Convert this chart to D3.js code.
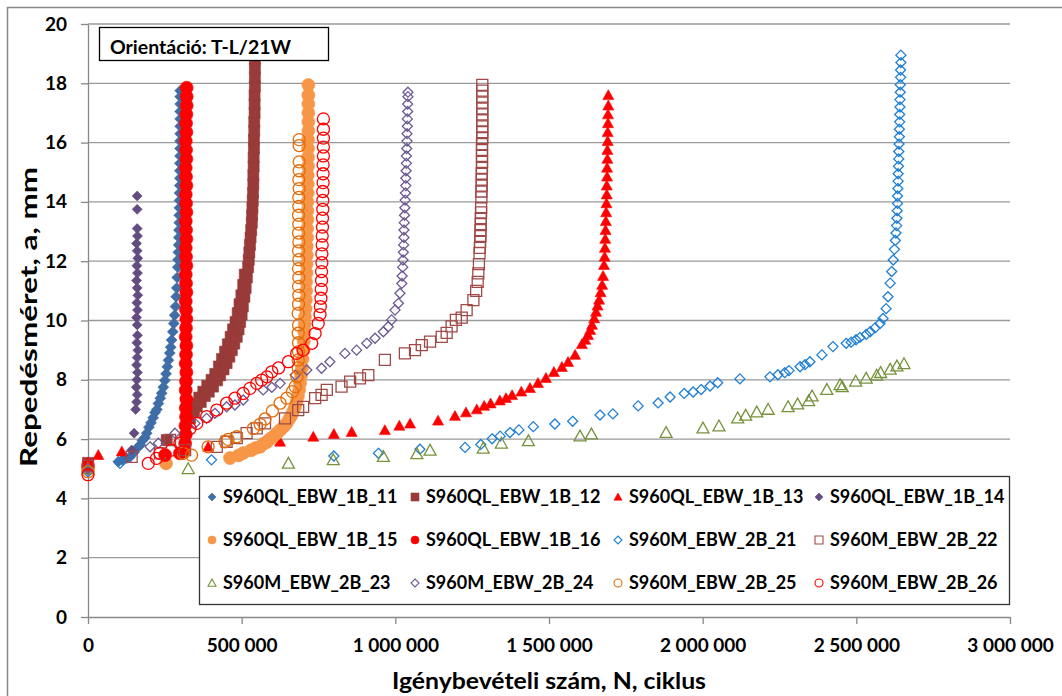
<!DOCTYPE html>
<html>
<head>
<meta charset="utf-8">
<script src="https://cdn.jsdelivr.net/npm/d3@7"></script>
<style>
  body { margin: 0; background: #fff; }
  svg text { font-family: Lato, "Open Sans", sans-serif; font-weight: bold; fill: #000; }
</style>
</head>
<body>
<svg id="chart"></svg>
<script>
// ---- data: [N cycles, crack size a mm] ----
const s11 = [[0,5.2],[98600,5.24],[112000,5.3],[125000,5.35],[136700,5.4],[150000,5.56],[163700,5.74],[170000,5.8],[177000,5.95],[185000,6.05],[191000,6.2],[198000,6.4],[205000,6.55],[212000,6.72],[218000,6.9],[224000,7.0],[229000,7.2],[235000,7.38],[239800,7.55],[245000,7.75],[250000,7.98],[254000,8.2],[258000,8.44],[262000,8.66],[266000,8.9],[269000,9.1],[272000,9.34],[276000,9.62],[279000,9.9],[282000,10.18],[285000,10.47],[287000,10.8],[289000,11.1],[290500,11.45],[292000,11.8],[293000,12.05],[294000,12.3],[295000,12.55],[295500,12.8],[296000,13.05],[297000,13.3],[297000,13.55],[297500,13.8],[298000,14.05],[298000,14.3],[298500,14.55],[299000,14.8],[299000,15.05],[299000,15.3],[299500,15.55],[299500,15.8],[299500,16.05],[300000,16.3],[300000,16.55],[300000,16.8],[300000,17.05],[300000,17.3],[300000,17.55],[300000,17.75]];
const s12 = [[0,5.2],[256000,5.97],[321000,6.75],[332000,6.7],[338000,6.95],[345000,6.9],[350000,7.2],[354000,7.1],[362000,7.4],[367000,7.25],[375000,7.6],[380000,7.45],[388000,7.8],[393000,7.6],[402000,8.0],[407000,7.77],[414000,8.2],[420000,7.98],[426000,8.45],[430000,8.15],[436000,8.7],[441000,8.35],[446000,8.95],[451000,8.56],[455000,9.2],[460000,8.78],[464000,9.45],[468000,9.0],[472000,9.7],[476000,9.22],[480000,9.95],[484000,9.45],[487000,10.25],[490000,9.7],[493000,10.55],[495000,9.95],[499000,10.85],[500000,10.2],[504000,10.47],[505000,11.2],[509000,10.8],[510000,11.55],[513000,11.1],[517000,11.45],[521000,11.8],[523000,12.05],[525000,12.3],[527000,12.55],[529000,12.8],[531000,13.05],[533000,13.3],[534000,13.55],[535000,13.8],[536000,14.05],[537000,14.3],[538000,14.6],[538000,14.9],[539000,15.2],[539000,15.5],[540000,15.8],[540000,16.1],[541000,16.4],[541000,16.7],[542000,17.0],[542000,17.3],[542000,17.6],[543000,17.9],[543000,18.2],[543000,18.5],[543000,18.8]];
const s13 = [[0,5.2],[33600,5.46],[110000,5.58],[391000,5.74],[625000,5.91],[733000,6.08],[800000,6.17],[858000,6.24],[966000,6.3],[1013000,6.45],[1048000,6.52],[1139000,6.62],[1194000,6.78],[1230000,6.9],[1265000,7.0],[1289000,7.12],[1310000,7.2],[1340000,7.3],[1360000,7.38],[1380000,7.48],[1410000,7.6],[1438000,7.72],[1464000,7.89],[1490000,8.06],[1516000,8.26],[1542000,8.43],[1562000,8.6],[1585000,8.84],[1607000,9.2],[1618000,9.35],[1627000,9.51],[1634000,9.68],[1640000,9.85],[1647000,10.07],[1653000,10.29],[1658000,10.5],[1663000,10.7],[1668000,10.95],[1673000,11.2],[1676000,11.5],[1679000,11.87],[1681000,12.15],[1682000,12.45],[1683000,12.75],[1684000,13.05],[1685000,13.35],[1686000,13.65],[1687000,13.95],[1688000,14.25],[1688000,14.55],[1689000,14.85],[1689000,15.15],[1690000,15.45],[1690000,15.75],[1691000,16.05],[1691000,16.35],[1692000,16.65],[1692000,16.95],[1693000,17.25],[1693000,17.6]];
const s14 = [[0,5.1],[142000,5.63],[150000,6.2],[155000,7.0],[158000,7.25],[160000,7.5],[157000,7.75],[159000,8.0],[161000,8.25],[158000,8.5],[160000,8.75],[162000,9.0],[159000,9.25],[161000,9.5],[160000,9.85],[158000,10.1],[161000,10.35],[159000,10.6],[162000,10.85],[160000,11.1],[158000,11.35],[161000,11.6],[159000,11.85],[162000,12.1],[160000,12.35],[158000,12.6],[161000,12.85],[160000,13.1],[160000,13.75],[160000,14.2]];
const s15 = [[0,5.0],[254000,5.18],[462000,5.36],[490000,5.45],[505000,5.53],[530000,5.62],[545000,5.7],[560000,5.74],[572000,5.85],[582000,5.9],[592000,6.0],[602000,6.08],[615000,6.2],[625000,6.3],[637000,6.42],[647000,6.54],[655000,6.68],[662000,6.8],[668000,6.95],[674000,7.09],[679000,7.27],[683000,7.45],[687000,7.66],[690000,7.88],[693000,8.14],[696000,8.4],[698000,8.7],[701000,9.0],[702000,9.3],[704000,9.6],[705000,9.87],[706000,10.13],[708000,10.4],[709000,10.7],[710000,11.0],[710000,11.3],[711000,11.6],[711000,11.9],[712000,12.2],[712000,12.5],[713000,12.8],[713000,13.1],[714000,13.4],[714000,13.7],[714000,14.0],[715000,14.3],[715000,14.6],[715000,14.9],[716000,15.2],[716000,15.5],[716000,15.8],[716000,16.1],[717000,16.4],[717000,16.7],[717000,17.0],[717000,17.3],[717000,17.6],[717000,17.94]];
const s16 = [[0,5.1],[251000,5.46],[299000,5.52],[312000,5.6],[316000,5.85],[318000,6.15],[317000,6.45],[319000,6.75],[318000,7.05],[320000,7.35],[318000,7.65],[319000,7.95],[320000,8.25],[318000,8.55],[319000,8.85],[320000,9.15],[318000,9.45],[319000,9.75],[320000,10.05],[319000,10.35],[318000,10.65],[320000,10.95],[319000,11.25],[318000,11.55],[320000,11.85],[319000,12.15],[318000,12.45],[320000,12.75],[319000,13.05],[318000,13.35],[320000,13.65],[319000,13.95],[318000,14.25],[320000,14.55],[319000,14.85],[318000,15.15],[320000,15.45],[319000,15.75],[318000,16.05],[320000,16.35],[319000,16.65],[320000,16.95],[321000,17.25],[321000,17.55],[321000,17.85]];
const s21 = [[0,4.9],[104000,5.18],[402000,5.3],[800000,5.43],[945000,5.52],[1080000,5.66],[1227000,5.72],[1278000,5.82],[1315000,6.01],[1341000,6.1],[1373000,6.22],[1402000,6.31],[1449000,6.42],[1519000,6.51],[1577000,6.6],[1666000,6.81],[1708000,6.85],[1790000,7.12],[1855000,7.22],[1894000,7.42],[1940000,7.54],[1969000,7.59],[1995000,7.67],[2024000,7.79],[2049000,7.9],[2121000,8.03],[2219000,8.1],[2245000,8.17],[2267000,8.24],[2281000,8.31],[2317000,8.44],[2333000,8.51],[2349000,8.61],[2388000,8.84],[2424000,9.12],[2467000,9.23],[2483000,9.27],[2499000,9.35],[2512000,9.43],[2532000,9.53],[2545000,9.62],[2561000,9.75],[2577000,9.9],[2587000,10.07],[2597000,10.4],[2603000,10.8],[2610000,11.26],[2615000,11.65],[2620000,12.04],[2624000,12.4],[2627000,12.7],[2629000,12.95],[2631000,13.2],[2632000,13.45],[2633000,13.7],[2634000,13.95],[2634000,14.2],[2635000,14.45],[2636000,14.7],[2636000,14.95],[2637000,15.2],[2638000,15.45],[2638000,15.7],[2639000,15.95],[2640000,16.2],[2640000,16.45],[2641000,16.7],[2641000,16.95],[2642000,17.2],[2642000,17.45],[2643000,17.7],[2643000,17.95],[2644000,18.2],[2644000,18.45],[2645000,18.7],[2645000,18.95]];
const s22 = [[0,5.1],[142000,5.4],[234000,5.52],[267000,5.97],[316000,5.63],[419000,5.74],[451000,5.91],[484000,6.03],[516000,6.2],[549000,6.36],[576000,6.53],[641000,6.7],[684000,6.98],[700000,7.09],[739000,7.38],[760000,7.49],[777000,7.66],[825000,7.77],[853000,7.94],[885000,8.05],[912000,8.16],[966000,8.67],[1031000,8.89],[1064000,9.0],[1086000,9.17],[1113000,9.29],[1151000,9.45],[1167000,9.58],[1183000,9.8],[1197000,10.02],[1216000,10.1],[1232000,10.35],[1254000,10.69],[1263000,11.0],[1268000,11.3],[1270000,11.59],[1272000,11.9],[1274000,12.27],[1275000,12.45],[1276000,12.65],[1277000,12.85],[1277000,13.05],[1278000,13.25],[1278000,13.45],[1279000,13.65],[1279000,13.8],[1280000,14.15],[1280000,14.35],[1281000,14.55],[1281000,14.75],[1281000,14.95],[1282000,15.15],[1282000,15.35],[1282000,15.55],[1282000,15.75],[1282000,15.95],[1283000,16.15],[1283000,16.35],[1283000,16.55],[1283000,16.75],[1283000,16.95],[1283000,17.15],[1283000,17.35],[1283000,17.55],[1283000,17.75],[1283000,17.95]];
const s23 = [[0,5.0],[326000,5.0],[652000,5.18],[798000,5.3],[961000,5.41],[1070000,5.5],[1113000,5.62],[1286000,5.69],[1345000,5.86],[1433000,5.94],[1601000,6.1],[1638000,6.17],[1881000,6.22],[2001000,6.37],[2053000,6.44],[2114000,6.71],[2140000,6.8],[2176000,6.91],[2213000,7.0],[2278000,7.09],[2309000,7.18],[2345000,7.29],[2356000,7.45],[2404000,7.67],[2447000,7.83],[2454000,7.76],[2498000,7.95],[2532000,8.05],[2566000,8.15],[2579000,8.24],[2610000,8.35],[2632000,8.46],[2655000,8.54]];
const s24 = [[0,5.0],[202000,5.74],[229000,5.86],[283000,6.2],[348000,6.53],[386000,6.7],[413000,6.87],[451000,7.09],[478000,7.15],[505000,7.32],[570000,7.66],[598000,7.75],[625000,7.88],[674000,8.16],[712000,8.33],[760000,8.39],[787000,8.61],[836000,8.89],[874000,9.0],[907000,9.23],[934000,9.4],[961000,9.62],[977000,9.79],[988000,10.02],[999000,10.35],[1010000,10.58],[1015000,10.92],[1021000,11.25],[1022000,11.5],[1024000,11.8],[1025000,12.04],[1026000,12.3],[1027000,12.55],[1028000,12.8],[1028000,13.05],[1029000,13.3],[1030000,13.55],[1031000,13.8],[1032000,14.06],[1033000,14.3],[1034000,14.55],[1034000,14.8],[1035000,15.05],[1036000,15.3],[1036000,15.55],[1037000,15.8],[1038000,16.05],[1038000,16.3],[1039000,16.55],[1039000,16.8],[1040000,17.05],[1040000,17.3],[1041000,17.55],[1041000,17.7]];
const s25 = [[0,4.9],[310000,5.52],[337000,5.46],[391000,5.74],[446000,5.91],[456000,5.99],[484000,6.08],[538000,6.36],[560000,6.5],[576000,6.68],[600000,6.95],[625000,7.21],[647000,7.38],[665000,7.6],[674000,7.77],[680000,8.1],[684000,8.4],[684000,8.67],[685000,8.95],[685000,9.25],[684000,9.57],[685000,9.85],[684000,10.24],[685000,10.55],[686000,10.85],[685000,11.15],[686000,11.45],[685000,11.75],[686000,12.05],[685000,12.35],[686000,12.65],[685000,12.95],[686000,13.25],[685000,13.55],[686000,13.85],[686000,14.15],[687000,14.45],[686000,14.75],[687000,15.05],[687000,15.35],[687000,15.9],[687000,16.1]];
const s26 = [[0,4.8],[196000,5.18],[223000,5.35],[234000,5.52],[272000,5.63],[299000,5.86],[332000,6.36],[354000,6.53],[386000,6.76],[419000,6.98],[451000,7.21],[478000,7.38],[505000,7.54],[527000,7.71],[549000,7.88],[565000,7.99],[582000,8.1],[598000,8.27],[620000,8.4],[652000,8.61],[679000,8.89],[700000,9.0],[728000,9.23],[739000,9.56],[749000,9.9],[755000,10.2],[756000,10.47],[758000,10.75],[759000,11.05],[760000,11.35],[760000,11.65],[761000,11.95],[761000,12.25],[762000,12.55],[762000,12.85],[763000,13.15],[763000,13.45],[764000,13.75],[764000,14.05],[764000,14.35],[765000,14.65],[765000,14.95],[765000,15.25],[766000,15.55],[766000,15.85],[766000,16.15],[766000,16.45],[766000,16.8]];

const seriesNames = ['S960QL_EBW_1B_11','S960QL_EBW_1B_12','S960QL_EBW_1B_13','S960QL_EBW_1B_14',
  'S960QL_EBW_1B_15','S960QL_EBW_1B_16','S960M_EBW_2B_21','S960M_EBW_2B_22',
  'S960M_EBW_2B_23','S960M_EBW_2B_24','S960M_EBW_2B_25','S960M_EBW_2B_26'];
const seriesData = [s11, s12, s13, s14, s15, s16, s21, s22, s23, s24, s25, s26];
const xTicks = [0, 500000, 1000000, 1500000, 2000000, 2500000, 3000000];
const yTicks = [0, 2, 4, 6, 8, 10, 12, 14, 16, 18, 20];

// marker styles, same order as seriesNames
const styles = [
  {shape:'diamond',  filled:true,  color:'#3F6DA6', size:11},
  {shape:'square',   filled:true,  color:'#983B39', size:11},
  {shape:'triangle', filled:true,  color:'#FF0000', size:11},
  {shape:'diamond',  filled:true,  color:'#634C80', size:10},
  {shape:'circle',   filled:true,  color:'#F79646', size:13},
  {shape:'circle',   filled:true,  color:'#FF0000', size:13},
  {shape:'diamond',  filled:false, color:'#1F7FD4', size:10},
  {shape:'square',   filled:false, color:'#A04A48', size:11},
  {shape:'triangle', filled:false, color:'#77933C', size:12},
  {shape:'diamond',  filled:false, color:'#6D5A93', size:10},
  {shape:'circle',   filled:false, color:'#E46C0A', size:12},
  {shape:'circle',   filled:false, color:'#FF0000', size:12}
];

function markerPath(shape, s) {
  const r = s / 2;
  if (shape === 'diamond') return `M0,${-r}L${r},0L0,${r}L${-r},0Z`;
  if (shape === 'square') return `M${-r},${-r}H${r}V${r}H${-r}Z`;
  if (shape === 'triangle') return `M0,${-r}L${r},${r*0.8}L${-r},${r*0.8}Z`;
  return `M${r},0A${r},${r} 0 1,1 ${-r},0A${r},${r} 0 1,1 ${r},0Z`;
}

const width = 1062, height = 696;
const plot = {left: 88, right: 1010, top: 24, bottom: 617};

const svg = d3.select('#chart').attr('width', width).attr('height', height);

// outer chart border
svg.append('rect')
  .attr('x', 7.5).attr('y', 7.5)
  .attr('width', width).attr('height', height)
  .attr('fill', 'none').attr('stroke', '#888').attr('stroke-width', 1.5);

const xScale = d3.scaleLinear().domain([0, 3000000]).range([plot.left, plot.right]);
const yScale = d3.scaleLinear().domain([0, 20]).range([plot.bottom, plot.top]);

const huFormat = d3.formatLocale({decimal: ',', thousands: '\u00a0', grouping: [3], currency: ['', '']}).format(',');

// gridlines
svg.append('g')
  .selectAll('line')
  .data(yTicks.filter(d => d > 0))
  .join('line')
  .attr('x1', plot.left).attr('x2', plot.right)
  .attr('y1', d => yScale(d)).attr('y2', d => yScale(d))
  .attr('stroke', '#9a9a9a').attr('stroke-width', 1.3);

// axes
const xAxisG = svg.append('g')
  .attr('transform', `translate(0,${plot.bottom})`)
  .call(d3.axisBottom(xScale).tickValues(xTicks).tickFormat(huFormat).tickSizeInner(7).tickSizeOuter(0).tickPadding(15));
const yAxisG = svg.append('g')
  .attr('transform', `translate(${plot.left},0)`)
  .call(d3.axisLeft(yScale).tickValues(yTicks).tickSizeInner(7).tickSizeOuter(0).tickPadding(14));

[xAxisG, yAxisG].forEach(g => {
  g.select('.domain').attr('stroke', '#888').attr('stroke-width', 1.3);
  g.selectAll('.tick line').attr('stroke', '#888').attr('stroke-width', 1.3);
  g.selectAll('.tick text').attr('font-size', 19).attr('fill', '#000')
    .style('font-family', 'Lato, sans-serif').style('font-weight', 'bold');
});

// series
const seriesG = svg.append('g');
seriesData.forEach((data, i) => {
  const st = styles[i];
  seriesG.append('g')
    .selectAll('path')
    .data(data)
    .join('path')
    .attr('d', markerPath(st.shape, st.size))
    .attr('transform', d => `translate(${xScale(d[0])},${yScale(d[1])})`)
    .attr('fill', st.filled ? st.color : 'none')
    .attr('stroke', st.color)
    .attr('stroke-width', st.filled ? 0.6 : 1.3);
});

// orientation label box
svg.append('rect')
  .attr('x', 99.5).attr('y', 27.5).attr('width', 229).attr('height', 33)
  .attr('fill', '#fff').attr('stroke', '#000').attr('stroke-width', 1.3);
svg.append('text')
  .attr('x', 110).attr('y', 54)
  .attr('font-size', 19.5)
  .text('Orientáció: T-L/21W');

// legend
const legend = svg.append('g');
legend.append('rect')
  .attr('x', 199.5).attr('y', 476.5).attr('width', 810).attr('height', 128)
  .attr('fill', '#fff').attr('stroke', '#333').attr('stroke-width', 1.3);

const legCols = [212, 415, 618, 819];
const legRows = [497, 540, 583];
seriesNames.forEach((name, i) => {
  const st = styles[i];
  const cx = legCols[i % 4], cy = legRows[Math.floor(i / 4)];
  legend.append('path')
    .attr('d', markerPath(st.shape, 8))
    .attr('transform', `translate(${cx},${cy})`)
    .attr('fill', st.filled ? st.color : 'none')
    .attr('stroke', st.color)
    .attr('stroke-width', st.filled ? 0.6 : 1.1);
  legend.append('text')
    .attr('x', cx + 11).attr('y', cy)
    .attr('dy', '0.36em')
    .attr('font-size', 18)
    .text(name);
});

// axis titles
svg.append('text')
  .attr('x', 549).attr('y', 689)
  .attr('text-anchor', 'middle')
  .attr('font-size', 23)
  .attr('textLength', 314).attr('lengthAdjust', 'spacingAndGlyphs')
  .text('Igénybevételi szám, N, ciklus');

svg.append('text')
  .attr('transform', 'rotate(-90)')
  .attr('x', -317).attr('y', 37)
  .attr('text-anchor', 'middle')
  .attr('font-size', 23)
  .attr('textLength', 300).attr('lengthAdjust', 'spacingAndGlyphs')
  .text('Repedésméret, a, mm');
</script>
</body>
</html>
